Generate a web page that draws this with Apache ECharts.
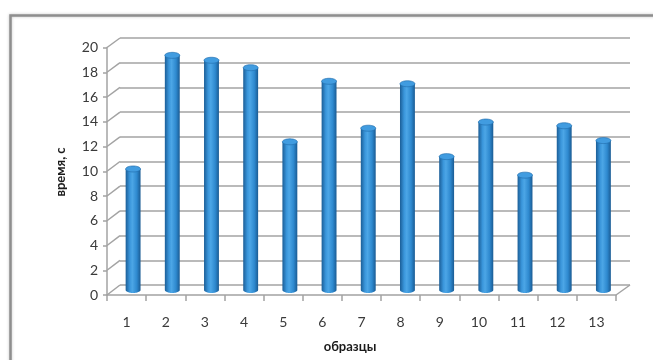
<!DOCTYPE html>
<html>
<head>
<meta charset="utf-8">
<script src="https://cdn.jsdelivr.net/npm/echarts@6/dist/echarts.min.js"></script>
<style>
  html, body { margin: 0; padding: 0; background: #ffffff; }
  #chart { width: 653px; height: 360px; }
</style>
</head>
<body>
<div id="chart"></div>
<script>
// Sample numbers and measured times (seconds)
const categories = ['1', '2', '3', '4', '5', '6', '7', '8', '9', '10', '11', '12', '13'];
const times = [9.8, 19.0, 18.6, 18.0, 12.0, 16.9, 13.1, 16.7, 10.8, 13.6, 9.3, 13.3, 12.1];
const yMin = 0;
const yMax = 20;
const yStep = 2;
const yTitle = 'время, с';
const xTitle = 'образцы';

// Pseudo-3D layout: front plane (axes), back wall (gridlines), middle plane (columns)
const FRONT = { left: 107, top: 47.5, width: 509, height: 247.5 };
const BACK = { left: 120, top: 38, width: 510, height: 247 };
const MID = { left: 113.5, top: 43, width: 509.5, height: 247 };

const axisGray = '#a3a3a3';
const textColor = '#3a3a3a';
const font = 'Lato, "Open Sans", sans-serif';

const chart = echarts.init(document.getElementById('chart'), null, { renderer: 'canvas' });

function sideGradient() {
  return new echarts.graphic.LinearGradient(0, 0, 1, 0, [
    { offset: 0, color: '#1b5e97' },
    { offset: 0.28, color: '#3a96db' },
    { offset: 0.45, color: '#4ca6e6' },
    { offset: 0.75, color: '#2e89cf' },
    { offset: 1, color: '#1a5b93' }
  ]);
}

// Cylinder column: body with rounded base plus an elliptical cap
function renderCylinder(params, api) {
  const top = api.coord([api.value(0), api.value(1)]);
  const base = api.coord([api.value(0), 0]);
  const band = api.size([1, 0])[0];
  const rx = band * 0.19;
  const ry = 3;
  const cx = top[0];
  const n = 28;
  const body = [[cx - rx, top[1]], [cx - rx, base[1]]];
  for (let i = 1; i < n; i++) {
    const a = Math.PI - Math.PI * i / n;
    body.push([cx + rx * Math.cos(a), base[1] + ry * Math.sin(a)]);
  }
  body.push([cx + rx, base[1]], [cx + rx, top[1]]);
  const cap = [];
  for (let i = 0; i < 2 * n; i++) {
    const a = Math.PI * i / n;
    cap.push([cx + rx * Math.cos(a), top[1] + ry * Math.sin(a)]);
  }
  return {
    type: 'group',
    children: [
      { type: 'polygon', shape: { points: body }, style: { fill: sideGradient() } },
      { type: 'polygon', shape: { points: cap }, style: { fill: '#419ce0', stroke: '#236fae', lineWidth: 0.7 } }
    ]
  };
}

chart.setOption({
  backgroundColor: '#ffffff',
  animation: false,
  grid: [
    Object.assign({ containLabel: false }, FRONT),
    Object.assign({ containLabel: false }, BACK),
    Object.assign({ containLabel: false }, MID)
  ],
  xAxis: [
    {
      gridIndex: 0, type: 'category', data: categories, boundaryGap: true,
      axisLine: { show: true, lineStyle: { color: axisGray, width: 1.5 } },
      axisTick: { show: true, length: 6, lineStyle: { color: axisGray, width: 1.5 } },
      axisLabel: { color: textColor, fontFamily: font, fontSize: 14, margin: 20 },
      splitLine: { show: false }
    },
    {
      gridIndex: 1, type: 'category', data: categories,
      axisLine: { show: false }, axisTick: { show: false }, axisLabel: { show: false }, splitLine: { show: false }
    },
    {
      gridIndex: 2, type: 'category', data: categories,
      axisLine: { show: false }, axisTick: { show: false }, axisLabel: { show: false }, splitLine: { show: false }
    }
  ],
  yAxis: [
    {
      gridIndex: 0, type: 'value', min: yMin, max: yMax, interval: yStep,
      axisLine: { show: true, lineStyle: { color: axisGray, width: 1.5 } },
      axisTick: { show: true, length: 4, lineStyle: { color: axisGray, width: 1.5 } },
      axisLabel: { color: textColor, fontFamily: font, fontSize: 14, margin: 9 },
      splitLine: { show: false }
    },
    {
      gridIndex: 1, type: 'value', min: yMin, max: yMax, interval: yStep,
      axisLine: { show: false }, axisTick: { show: false }, axisLabel: { show: false },
      splitLine: { show: true, lineStyle: { color: axisGray, width: 1.6 } }
    },
    {
      gridIndex: 2, type: 'value', min: yMin, max: yMax, interval: yStep,
      axisLine: { show: false }, axisTick: { show: false }, axisLabel: { show: false }, splitLine: { show: false }
    }
  ],
  series: [
    {
      type: 'custom',
      xAxisIndex: 2,
      yAxisIndex: 2,
      renderItem: renderCylinder,
      encode: { x: 0, y: 1 },
      data: times.map((v, i) => [i, v]),
      z: 5
    }
  ]
});

// Chart frame, axis titles, and the edges joining the front axes to the back wall
const graphics = [
  {
    type: 'rect', left: 8, top: 13, silent: true, z: 0,
    shape: { x: 0, y: 0, width: 700, height: 400 },
    style: { fill: 'none', stroke: '#8e8e8e', lineWidth: 2.5, shadowColor: 'rgba(0,0,0,0.25)', shadowBlur: 3 }
  },
  {
    type: 'text', x: 61, y: 172, rotation: Math.PI / 2, silent: true,
    style: { text: yTitle, fill: '#1a1a1a', font: 'bold 13px ' + font, align: 'center', verticalAlign: 'middle' }
  },
  {
    type: 'text', x: 350, y: 347, silent: true,
    style: { text: xTitle, fill: '#1a1a1a', font: 'bold 13px ' + font, align: 'center', verticalAlign: 'middle' }
  }
];
for (let v = yMin; v <= yMax; v += yStep) {
  const yf = chart.convertToPixel({ yAxisIndex: 0 }, v);
  const yb = chart.convertToPixel({ yAxisIndex: 1 }, v);
  graphics.push({
    type: 'line', silent: true, z: 1,
    shape: { x1: FRONT.left, y1: yf, x2: BACK.left, y2: yb },
    style: { stroke: axisGray, lineWidth: 1.5 }
  });
}
const y0f = chart.convertToPixel({ yAxisIndex: 0 }, yMin);
const y0b = chart.convertToPixel({ yAxisIndex: 1 }, yMin);
graphics.push({
  type: 'line', silent: true, z: 1,
  shape: { x1: FRONT.left + FRONT.width, y1: y0f, x2: BACK.left + BACK.width, y2: y0b },
  style: { stroke: axisGray, lineWidth: 1.5 }
});
chart.setOption({ graphic: graphics });
</script>
</body>
</html>
